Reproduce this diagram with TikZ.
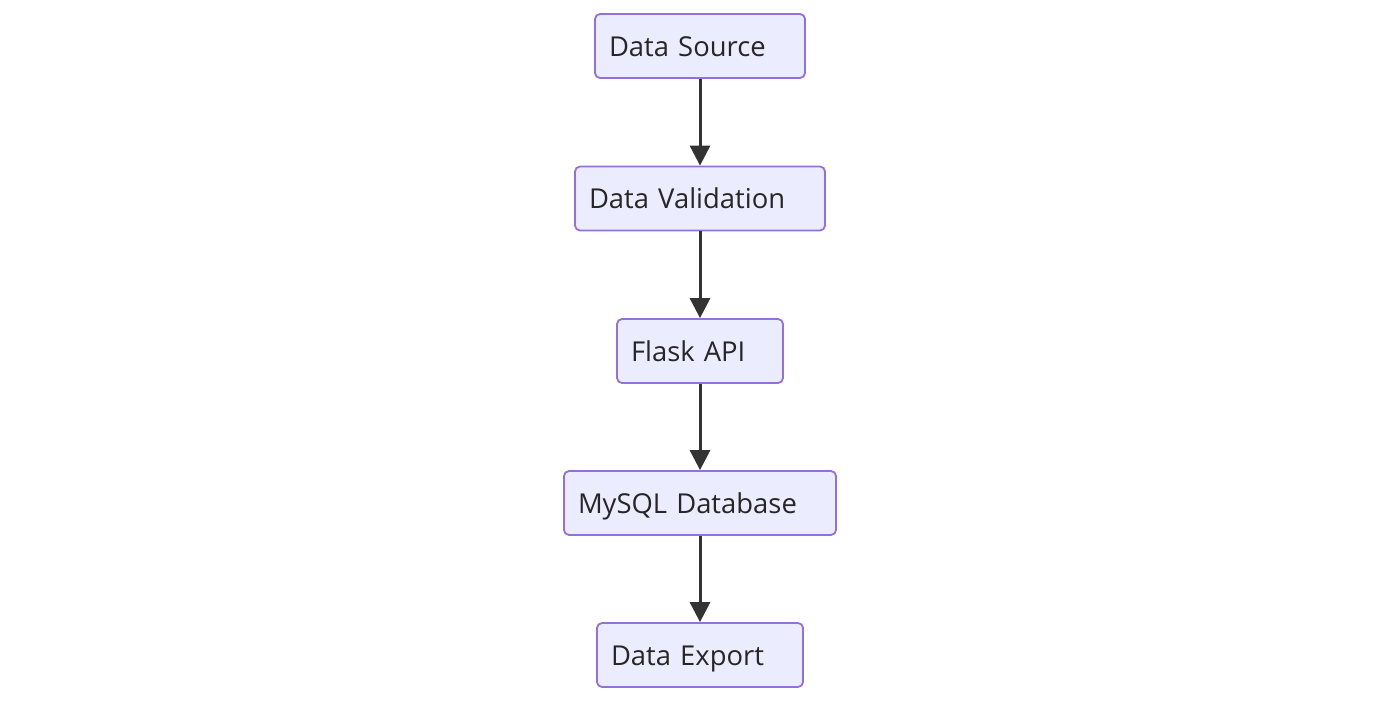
\documentclass[tikz,border=0pt]{standalone}
\usepackage{fontspec}
\setmainfont{Open Sans}
\usetikzlibrary{arrows.meta}
\definecolor{boxfill}{HTML}{ECECFF}
\definecolor{boxline}{HTML}{9370DB}
\definecolor{arr}{HTML}{333333}
\tikzset{
  flowbox/.style={draw=boxline, fill=boxfill, line width=1.8pt, rounded corners=5pt,
    inner xsep=14pt, inner ysep=0pt, minimum height=64pt, align=left,
    text height=20pt, text depth=0pt,
    font=\fontsize{27.4}{31}\selectfont, text=black!85, anchor=center},
  flowarrow/.style={draw=arr, line width=3pt, -{Triangle[width=20pt,length=20pt]}}
}
\begin{document}
\begin{tikzpicture}[x=1pt,y=-1pt]
\useasboundingbox (0,0) rectangle (1400,702);
\node[flowbox, text width=182pt] (a) at (700,46) {Data Source};
\node[flowbox, text width=222pt] (b) at (700,198.5) {Data Validation};
\node[flowbox, text width=138pt] (c) at (700,351) {Flask API};
\node[flowbox, text width=244pt] (d) at (700,503) {MySQL Database};
\node[flowbox, text width=178pt] (e) at (700,655) {Data Export};
\draw[flowarrow] (a) -- (b);
\draw[flowarrow] (b) -- (c);
\draw[flowarrow] (c) -- (d);
\draw[flowarrow] (d) -- (e);
\end{tikzpicture}
\end{document}
